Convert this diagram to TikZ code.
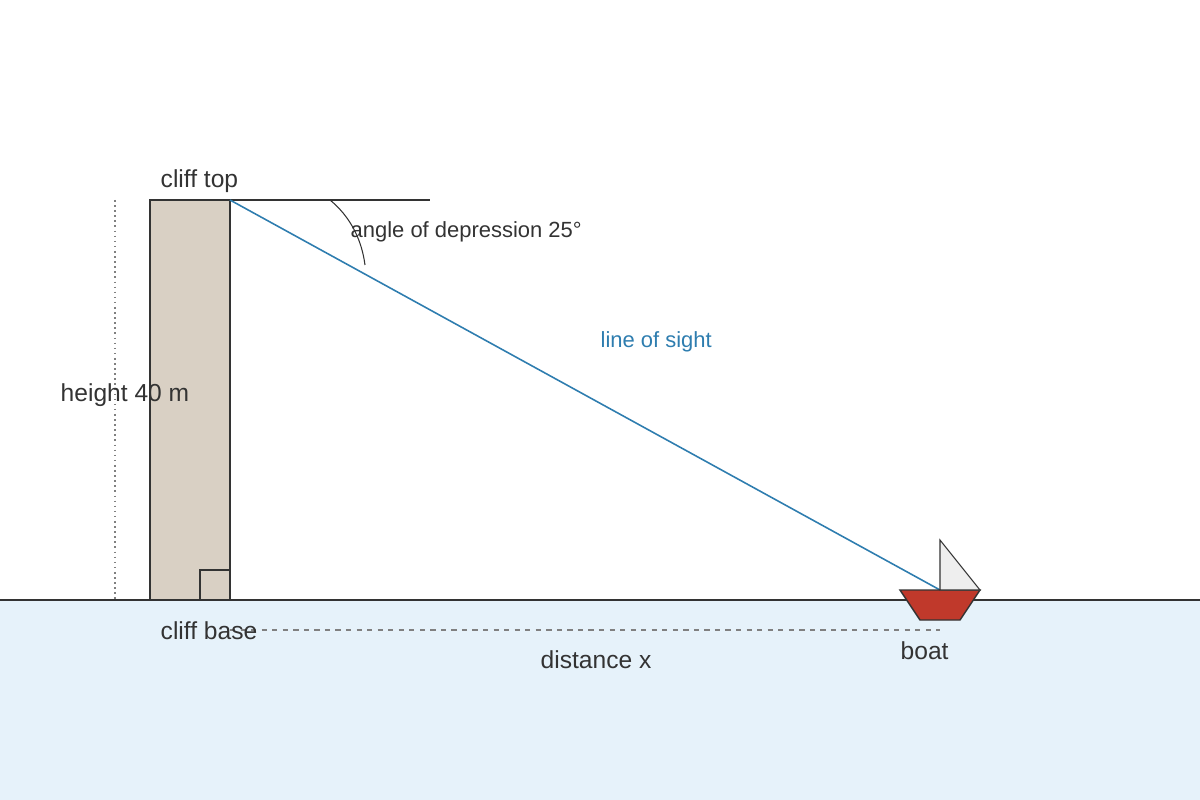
\documentclass[tikz,border=0pt]{standalone}
\usepackage{fontspec}
\setmainfont{Liberation Sans}
\definecolor{ink}{HTML}{333333}
\definecolor{sea}{HTML}{E6F2FA}
\definecolor{rock}{HTML}{D9D0C4}
\definecolor{sight}{HTML}{2E7DAF}
\definecolor{hull}{HTML}{C0392B}
\definecolor{sail}{HTML}{EEEEEE}
\tikzset{
  lbl/.style={text=ink,inner sep=0pt,anchor=west,font=\fontsize{14}{16}\selectfont},
  small lbl/.style={lbl,font=\fontsize{12.5}{15}\selectfont},
}
\begin{document}
\begin{tikzpicture}[x=0.02cm,y=-0.02cm,line width=0.8pt]
    \useasboundingbox (0,0) rectangle (1200,800);
    \coordinate (Top) at (230,200);
    \coordinate (Edge) at (430,200);
    \coordinate (Boat) at (940,590);
    \coordinate (HL) at (0,600);
    \coordinate (HR) at (1200,600);
    \coordinate (D1) at (230,630);
    \coordinate (D2) at (940,630);
    \coordinate (H1) at (115,200);
    \coordinate (H2) at (115,600);

    % sea
    \fill[sea] (0,600) rectangle (1200,800);
    \draw[ink] (HL) -- (HR);

    % cliff
    \draw[ink,fill=rock] (150,200) rectangle (230,600);
    \draw[ink,line width=0.6pt] (200,600) -- (200,570) -- (230,570) -- (230,600);

    % sight lines
    \draw[ink] (Top) -- (Edge);
    \draw[ink,line width=0.6pt] (330,200) .. controls (352,218) and (362,242) .. (365,265);
    \draw[sight,line width=0.9pt] (Top) -- (Boat);

    % measures
    \draw[gray,dotted,line width=0.9pt] (H1) -- (H2);
    \draw[gray,dashed,line width=0.7pt] (D1) -- (D2);

    % boat
    \draw[ink,fill=hull] (900,590) -- (980,590) -- (960,620) -- (920,620) -- cycle;
    \draw[ink,fill=sail,line width=0.6pt] (940,540) -- (940,590) -- (980,590) -- cycle;

    \node[lbl] (topl) at (160,181) {cliff top};
    \node[small lbl] (angl) at (350,232) {angle of depression 25°};
    \node[small lbl,text=sight] (sightl) at (600,342) {line of sight};
    \node[lbl] (heightl) at (60,395) {height 40 m};
    \node[lbl] (basel) at (160,631) {cliff base};
    \node[lbl] (distl) at (540,660) {distance x};
    \node[lbl] (boatl) at (900,651) {boat};
\end{tikzpicture}
\end{document}
